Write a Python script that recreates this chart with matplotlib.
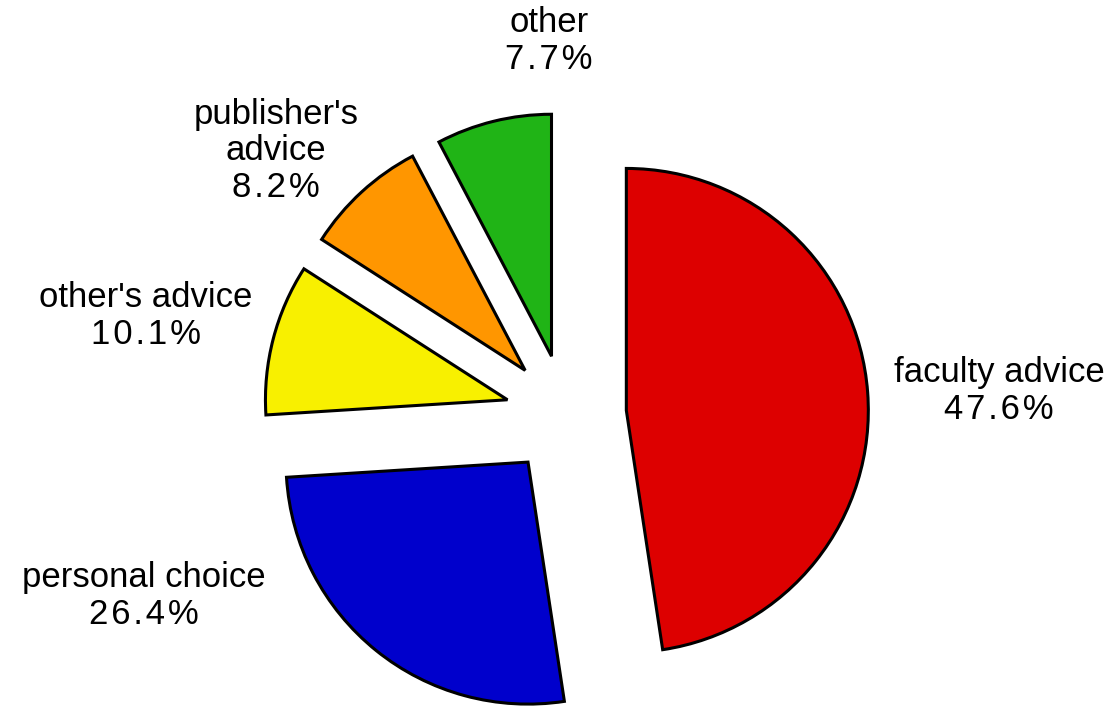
import matplotlib
matplotlib.use("Agg")
import matplotlib.pyplot as plt

categories = ["faculty advice", "personal choice", "other's advice", "publisher's\nadvice", "other"]
values = [47.6, 26.4, 10.1, 8.2, 7.7]
colors = ["#DD0000", "#0000CC", "#F8F000", "#FF9600", "#20B416"]

# layout (pixel space, y up)
W, H = 1118, 706
center = (566, 291)
radius = 242
explode_frac = 0.25
label_xy = [(999, 315), (144, 110), (146, 390), (276, 555), (549, 665)]

plt.rcParams['font.family'] = ['Liberation Sans', 'DejaVu Sans']

fig = plt.figure(figsize=(W / 100, H / 100), dpi=100)
ax = fig.add_axes([0, 0, 1, 1])
ax.pie(values, explode=[explode_frac * radius] * len(values), startangle=90, counterclock=False,
       colors=colors, radius=radius, center=center, frame=True,
       wedgeprops=dict(edgecolor='black', linewidth=2.2, joinstyle='miter'))
ax.set_xlim(0, W)
ax.set_ylim(0, H)
ax.set_aspect('equal')
ax.axis('off')

SP = "\u200a"  # small letter spacing for the percentage line
for cat, v, (x, y) in zip(categories, values, label_xy):
    pct = SP.join(f"{v:.1f}%")
    ax.text(x, y, f"{cat}\n{pct}", ha='center', va='center', multialignment='center',
            fontsize=25, color='black', linespacing=1.15)

fig.savefig("out.png", dpi=100)
